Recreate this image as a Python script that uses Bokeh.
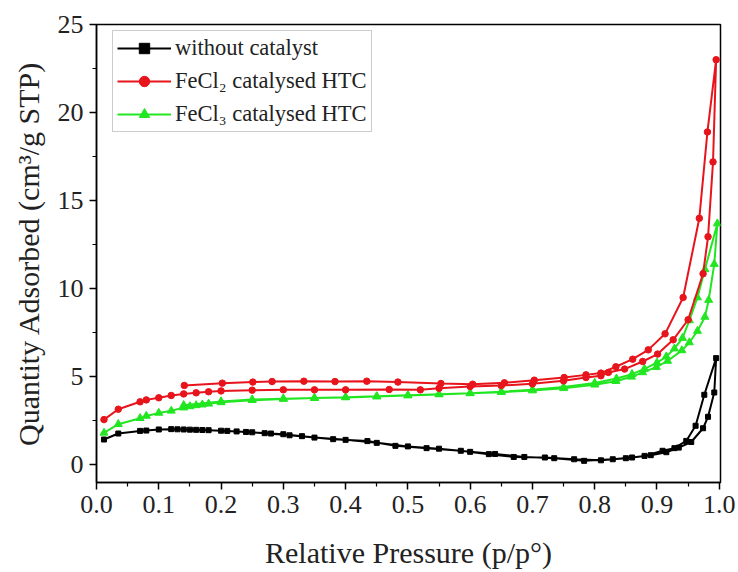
from bokeh.plotting import figure
from bokeh.models import (FixedTicker, Legend, LegendItem, NumeralTickFormatter, Range1d)
from bokeh.embed import file_html
from bokeh.resources import INLINE

# ---------------- data ----------------
x_ticks = [0.0, 0.1, 0.2, 0.3, 0.4, 0.5, 0.6, 0.7, 0.8, 0.9, 1.0]
y_ticks = [0, 5, 10, 15, 20, 25]

# without catalyst
bk_ads_x = [0.012, 0.035, 0.07, 0.08, 0.10, 0.12, 0.14, 0.16, 0.18, 0.20, 0.225, 0.25, 0.28, 0.30,
            0.33, 0.38, 0.435, 0.48, 0.53, 0.585, 0.63, 0.67, 0.72, 0.767, 0.81, 0.85, 0.88, 0.909,
            0.928, 0.947, 0.962, 0.976, 0.995]
bk_ads_y = [1.44, 1.78, 1.93, 1.95, 2.01, 2.03, 2.01, 1.99, 1.97, 1.94, 1.90, 1.85, 1.78, 1.74,
            1.63, 1.46, 1.35, 1.08, 0.95, 0.80, 0.61, 0.45, 0.42, 0.32, 0.26, 0.38, 0.51, 0.80,
            0.95, 1.36, 2.22, 3.98, 6.06]
bk_des_x = [0.992, 0.982, 0.974, 0.955, 0.935, 0.915, 0.89, 0.86, 0.829, 0.783, 0.735, 0.687,
            0.64, 0.60, 0.55, 0.50, 0.45, 0.40, 0.35, 0.31, 0.27, 0.24, 0.21, 0.17, 0.15, 0.13]
bk_des_y = [4.11, 2.73, 2.08, 1.30, 0.98, 0.72, 0.55, 0.42, 0.32, 0.23, 0.38, 0.45, 0.62, 0.74,
            0.92, 1.05, 1.25, 1.42, 1.55, 1.68, 1.80, 1.87, 1.93, 1.98, 2.00, 2.02]

# FeCl2 catalysed HTC
r_ads_x = [0.012, 0.035, 0.07, 0.08, 0.10, 0.12, 0.14, 0.16, 0.18, 0.20, 0.25, 0.30, 0.35, 0.40,
           0.47, 0.52, 0.55, 0.60, 0.65, 0.70, 0.75, 0.786, 0.81, 0.822, 0.848, 0.877, 0.901,
           0.926, 0.950, 0.974, 0.982, 0.990, 0.995]
r_ads_y = [2.57, 3.16, 3.58, 3.69, 3.81, 3.94, 4.03, 4.09, 4.15, 4.20, 4.24, 4.26, 4.26, 4.26,
           4.28, 4.26, 4.35, 4.45, 4.50, 4.60, 4.77, 4.96, 5.06, 5.25, 5.44, 5.87, 6.29,
           7.10, 8.24, 10.85, 12.95, 17.2, 23.0]
r_des_x = [0.981, 0.968, 0.942, 0.913, 0.886, 0.861, 0.834, 0.81, 0.786, 0.751, 0.703, 0.655,
           0.604, 0.553, 0.484, 0.434, 0.383, 0.333, 0.282, 0.251, 0.202, 0.141]
r_des_y = [18.9, 14.0, 9.5, 7.44, 6.53, 6.0, 5.57, 5.21, 5.11, 4.96, 4.81, 4.66,
           4.58, 4.62, 4.70, 4.75, 4.73, 4.75, 4.73, 4.70, 4.64, 4.51]

# FeCl3 catalysed HTC
g_ads_x = [0.012, 0.035, 0.07, 0.08, 0.10, 0.12, 0.14, 0.15, 0.16, 0.17, 0.18, 0.20, 0.25, 0.30,
           0.35, 0.40, 0.45, 0.50, 0.55, 0.60, 0.65, 0.70, 0.75, 0.80, 0.834, 0.859, 0.877, 0.899,
           0.917, 0.94, 0.952, 0.965, 0.977, 0.983, 0.992, 0.997]
g_ads_y = [1.82, 2.31, 2.65, 2.78, 2.95, 3.07, 3.25, 3.32, 3.38, 3.42, 3.47, 3.55, 3.67, 3.74,
           3.79, 3.83, 3.88, 3.94, 4.00, 4.06, 4.13, 4.22, 4.35, 4.55, 4.75, 5.00, 5.25, 5.55,
           5.90, 6.50, 6.95, 7.60, 8.40, 9.36, 11.4, 13.7]
g_des_x = [0.977, 0.965, 0.952, 0.941, 0.928, 0.915, 0.90, 0.88, 0.86, 0.835, 0.80, 0.75, 0.70,
           0.65, 0.60, 0.55, 0.50, 0.45, 0.40, 0.35, 0.30, 0.25, 0.20, 0.14]
g_des_y = [11.1, 9.5, 8.2, 7.2, 6.6, 6.15, 5.8, 5.45, 5.15, 4.9, 4.65, 4.42, 4.27,
           4.15, 4.07, 4.01, 3.95, 3.89, 3.84, 3.80, 3.76, 3.71, 3.60, 3.39]

series_names = ["without catalyst", "FeCl\u2082 catalysed HTC", "FeCl\u2083 catalysed HTC"]
x_title = "Relative Pressure (p/p\u00b0)"
y_title = "Quantity Adsorbed (cm\u00b3/g STP)"

# ---------------- figure ----------------
FONT = "Liberation Serif"
p = figure(width=738, height=572, output_backend="svg", toolbar_location=None,
           x_range=Range1d(0.0, 1.002), y_range=Range1d(-1.0, 25.0),
           min_border_left=96, min_border_right=18, min_border_top=24, min_border_bottom=90)
p.grid.visible = False
p.background_fill_color = "white"
p.border_fill_color = "white"
p.outline_line_color = "black"
p.outline_line_width = 1.5

for ax in (p.xaxis[0], p.yaxis[0]):
    ax.axis_line_width = 1.5
    ax.major_tick_in = 0
    ax.major_tick_out = 7
    ax.minor_tick_in = 0
    ax.minor_tick_out = 4
    ax.major_tick_line_width = 1.5
    ax.minor_tick_line_width = 1.2
    ax.major_label_text_font = FONT
    ax.major_label_text_font_size = "26px"
    ax.major_label_text_color = "#222222"
    ax.axis_label_text_font = FONT
    ax.axis_label_text_font_size = "30px"
    ax.axis_label_text_font_style = "normal"
    ax.axis_label_text_color = "#222222"

p.xaxis.ticker = FixedTicker(ticks=x_ticks,
                             minor_ticks=[t / 100 for t in range(5, 100, 10)])
p.xaxis.formatter = NumeralTickFormatter(format="0.0")
p.xaxis.axis_label = x_title
p.xaxis.axis_label_standoff = 20
p.xaxis.major_label_standoff = 6

p.yaxis.ticker = FixedTicker(ticks=y_ticks, minor_ticks=[2.5, 7.5, 12.5, 17.5, 22.5])
p.yaxis.axis_label = y_title
p.yaxis.axis_label_standoff = 10
p.yaxis.major_label_standoff = 6

def series(ax_, ay_, dx_, dy_, color, marker, size):
    xs = ax_ + dx_
    ys = ay_ + dy_
    ln = p.line(xs, ys, line_color=color, line_width=2.0)
    sc = p.scatter(xs, ys, marker=marker, size=size, fill_color=color, line_color=color)
    return [ln, sc]

r_black = series(bk_ads_x, bk_ads_y, bk_des_x, bk_des_y, "black", "square", 5)
r_green = series(g_ads_x, g_ads_y, g_des_x, g_des_y, "#22e622", "triangle", 8)
r_red = series(r_ads_x, r_ads_y, r_des_x, r_des_y, "#e8141c", "circle", 6.5)

legend = Legend(items=[LegendItem(label=series_names[0], renderers=r_black),
                       LegendItem(label=series_names[1], renderers=r_red),
                       LegendItem(label=series_names[2], renderers=r_green)],
                location=(16, 350))
legend.label_text_font = FONT
legend.label_text_font_size = "22.5px"
legend.label_text_color = "#222222"
legend.glyph_width = 54
legend.glyph_height = 26
legend.label_height = 26
legend.label_standoff = 4
legend.spacing = 7
legend.padding = 4
legend.margin = 0
legend.border_line_color = "#999999"
legend.border_line_width = 1
legend.background_fill_alpha = 1.0
p.add_layout(legend)

open("out.html", "w").write(file_html(p, INLINE))
